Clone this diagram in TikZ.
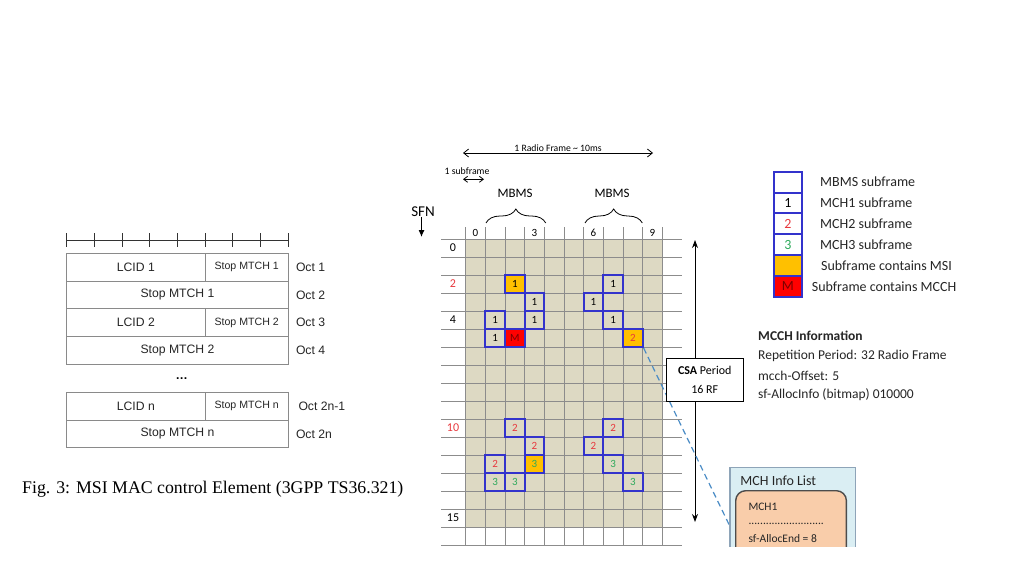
\documentclass[tikz,border=0pt]{standalone}
\usepackage{fontspec}
\setmainfont{Carlito}
\newfontfamily\arialf{Liberation Sans}
\newfontfamily\timesf{Liberation Serif}
\usetikzlibrary{positioning, calc, arrows.meta, decorations.pathreplacing}
\definecolor{tanbg}{HTML}{DDD9C3}
\definecolor{gridgray}{HTML}{8C8C8C}
\definecolor{mblue}{HTML}{3333CC}
\definecolor{msi}{HTML}{FFC000}
\definecolor{mcch}{HTML}{FF0000}
\definecolor{mdark}{HTML}{7A0000}
\definecolor{twored}{HTML}{E8383D}
\definecolor{threegreen}{HTML}{2EAA5C}
\definecolor{linkblue}{HTML}{4A8CC6}
\definecolor{infobg}{HTML}{DAEEF3}
\definecolor{infoedge}{HTML}{8EA4B8}
\definecolor{peach}{HTML}{F9CDAA}
\definecolor{tabgray}{HTML}{8A8A8A}
\newcommand*{\fs}[1]{\fontsize{#1}{#1}\selectfont}
\tikzset{
 tcell/.style={draw=tabgray, line width=0.9pt, outer sep=0pt, inner sep=0pt, minimum height=27.7pt, font=\arialf\fs{12.2}, text=black!85},
 tsmall/.style={font=\arialf\fs{10.6}},
 octlbl/.style={right=7.5pt of #1, inner sep=0pt, font=\arialf\fs{12.2}, text=black!85},
 mch/.style={draw=mblue, line width=2pt, minimum width=19.66pt, minimum height=18pt, inner sep=0pt, font=\fs{11}},
 legbox/.style={draw=mblue, line width=2pt, minimum width=27.7pt, minimum height=20.85pt, inner sep=0pt, outer sep=0pt, font=\fs{14}},
 legtxt/.style={anchor=west, inner sep=0pt, font=\fs{14}, text=black!85},
 info/.style={anchor=west, inner sep=0pt, font=\fs{13.5}, text=black!85},
}

\begin{document}
\begin{tikzpicture}[x=1pt, y=-1pt]
 \fill[white] (0,0) rectangle (1024,576);
 \useasboundingbox (0,0) rectangle (1024,576);

 % MSI MAC control element
 \coordinate (rul-l) at (66.7,240);
 \coordinate (rul-r) at (288.3,240);
 \draw[black!80, line width=0.9pt] (rul-l) -- (rul-r);
 \foreach \i in {0,...,8} \draw[black!80, line width=0.9pt] ($(rul-l)+(27.7*\i,-7)$) -- ++(0,14);

 \node[tcell, minimum width=138.3pt] (lcid1) at (135.85,267.15) {LCID 1};
 \node[tcell, tsmall, minimum width=83.3pt, right=0pt of lcid1] (stopa1) {Stop MTCH 1};
 \node[tcell, minimum width=221.6pt, below=0pt of lcid1.south west, anchor=north west] (stop1) {Stop MTCH 1};
 \node[tcell, minimum width=138.3pt, below=0pt of stop1.south west, anchor=north west] (lcid2) {LCID 2};
 \node[tcell, tsmall, minimum width=83.3pt, right=0pt of lcid2] (stopa2) {Stop MTCH 2};
 \node[tcell, minimum width=221.6pt, below=0pt of lcid2.south west, anchor=north west] (stop2) {Stop MTCH 2};
 \node[inner sep=0pt, font=\arialf\fs{12.2}] (dots) at (181.7,378.3) {\textbf{\dots}};
 \node[tcell, minimum width=138.3pt] (lcidn) at (135.85,406.15) {LCID n};
 \node[tcell, tsmall, minimum width=83.3pt, right=0pt of lcidn] (stopan) {Stop MTCH n};
 \node[tcell, minimum width=221.6pt, below=0pt of lcidn.south west, anchor=north west] (stopn) {Stop MTCH n};

 \node[octlbl=stopa1] (oct1) {Oct 1};
 \node[octlbl=stop1] (oct2) {Oct 2};
 \node[octlbl=stopa2] (oct3) {Oct 3};
 \node[octlbl=stop2] (oct4) {Oct 4};
 \node[octlbl=stopan, xshift=2.5pt] (oct2n1) {Oct 2n-1};
 \node[octlbl=stopn] (oct2n) {Oct 2n};

 \node[anchor=west, inner sep=0pt, font=\timesf\fs{17.8}] (caption) at (22,489) {Fig. 3: MSI MAC control Element (3GPP TS36.321)};

 % subframe grid
 \fill[tanbg] (465.7,239) rectangle (662.3,527);
 \foreach \k in {0,...,17} \draw[gridgray, line width=0.8pt] (441,{239+18*\k}) -- (682,{239+18*\k});
 \foreach \j in {0,...,10} \draw[gridgray, line width=0.8pt] ({465.7+19.66*\j},227) -- ({465.7+19.66*\j},546);

 \foreach \j in {0,3,6,9} \node[inner sep=0pt, font=\fs{11}] (col\j) at ({475.5+19.66*\j},233) {\j};
 \foreach \r/\c in {0/black, 2/twored, 4/black, 10/twored, 15/black}
  \node[inner sep=0pt, font=\fs{12}, text=\c] (row\r) at (453,{248+18*\r}) {\r};

 \foreach \c/\r/\t/\f/\tc in {2/2/1/msi/black, 7/2/1/tanbg/black, 3/3/1/tanbg/black, 6/3/1/tanbg/black,
   1/4/1/tanbg/black, 3/4/1/tanbg/black, 7/4/1/tanbg/black, 1/5/1/tanbg/black, 2/5/M/mcch/mdark, 8/5/2/msi/twored,
   2/10/2/tanbg/twored, 7/10/2/tanbg/twored, 3/11/2/tanbg/twored, 6/11/2/tanbg/twored,
   1/12/2/tanbg/twored, 3/12/3/msi/threegreen, 7/12/3/tanbg/threegreen,
   1/13/3/tanbg/threegreen, 2/13/3/tanbg/threegreen, 8/13/3/tanbg/threegreen}
  \node[mch, fill=\f, text=\tc] (c\c-\r) at ({475.5+19.66*\c},{248+18*\r}) {\t};

 % frame and subframe arrows
 \coordinate (rf-l) at (463,153);
 \coordinate (rf-r) at (653,153);
 \draw[{Straight Barb[length=5pt,width=8pt]}-{Straight Barb[length=5pt,width=8pt]}, line width=0.8pt] (rf-l) -- node[above=1.5pt, inner sep=0pt, font=\fs{9.7}] (rflbl) {1 Radio Frame \textasciitilde{} 10ms} (rf-r);
 \coordinate (sf-l) at (463,179.3);
 \coordinate (sf-r) at (484,179.3);
 \draw[{Straight Barb[length=4pt,width=6pt]}-{Straight Barb[length=4pt,width=6pt]}, line width=0.8pt] (sf-l) -- (sf-r);
 \node[inner sep=0pt, font=\fs{9.8}] (sflbl) at (467,170.7) {1 subframe};

 \node[inner sep=0pt, font=\fs{15}] (sfn) at (423,211.7) {SFN};
 \coordinate (sfn-end) at (421.5,237);
 \draw[-{Latex[length=7pt,width=6pt]}, line width=1pt] (sfn.south -| sfn-end) -- (sfn-end);

 \coordinate (mb1-l) at (486,223);
 \coordinate (mb1-r) at (545.7,223);
 \coordinate (mb2-l) at (585,223);
 \coordinate (mb2-r) at (642.3,223);
 \draw[decorate, decoration={brace, amplitude=14pt}, line width=0.8pt] (mb1-l) -- (mb1-r);
 \draw[decorate, decoration={brace, amplitude=14pt}, line width=0.8pt] (mb2-l) -- (mb2-r);
 \node[inner sep=0pt, font=\fs{12.9}] (mbms1) at (515,193) {MBMS};
 \node[inner sep=0pt, font=\fs{12.9}] (mbms2) at (612,193) {MBMS};

 % CSA period
 \coordinate (csa-top) at (695,240);
 \coordinate (csa-bot) at (695,522);
 \draw[{Stealth[length=8pt,width=6pt]}-{Stealth[length=8pt,width=6pt]}, line width=0.9pt] (csa-top) -- (csa-bot);
 \coordinate (mch-link) at (737,541);
 \draw[linkblue, line width=1.2pt, dash pattern=on 6pt off 4pt] (c8-5.south east) -- (mch-link);
 \node[draw, fill=white, line width=0.9pt, minimum width=77.3pt, minimum height=43.4pt, align=center, font=\fontsize{12}{18.4}\selectfont] (csa) at (704.7,380) {\textbf{CSA} Period\\16 RF};

 % legend
 \node[legbox] (leg0) at (787.85,182.1) {};
 \node[legbox, below=0pt of leg0] (leg1) {1};
 \node[legbox, below=0pt of leg1, text=twored] (leg2) {2};
 \node[legbox, below=0pt of leg2, text=threegreen] (leg3) {3};
 \node[legbox, below=0pt of leg3, fill=msi] (leg4) {};
 \node[legbox, below=0pt of leg4, fill=mcch, text=mdark] (leg5) {M};
 \node[legtxt, right=18.3pt of leg0] (legt0) {MBMS subframe};
 \node[legtxt, right=18.3pt of leg1] (legt1) {MCH1 subframe};
 \node[legtxt, right=18.3pt of leg2] (legt2) {MCH2 subframe};
 \node[legtxt, right=18.3pt of leg3] (legt3) {MCH3 subframe};
 \node[legtxt, right=19.3pt of leg4] (legt4) {Subframe contains MSI};
 \node[legtxt, right=10pt of leg5] (legt5) {Subframe contains MCCH};

 % MCCH information
 \node[info, font=\bfseries\fs{13.5}] (mcchhead) at (758,336) {MCCH Information};
 \node[info] (mcchrep) at (758,356) {Repetition Period: 32 Radio Frame};
 \node[info] (mcchoff) at (758,376) {mcch-Offset: 5};
 \node[info] (mcchalloc) at (758,395) {sf-AllocInfo (bitmap) 010000};

 % MCH info list, cut at the lower edge
 \begin{scope}
  \clip (700,440) rectangle (880,546);
  \node[draw=infoedge, fill=infobg, line width=1.3pt, minimum width=125.7pt, minimum height=120pt, anchor=north west] (mchlist) at (729.3,466.7) {};
  \node[inner sep=0pt, font=\fs{14}, text=black!85] (mchtitle) at (778.3,480.7) {MCH Info List};
  \node[draw=black!70, fill=peach, line width=1.4pt, rounded corners=10pt, minimum width=110.7pt, minimum height=90pt, anchor=north west] (mch1box) at (735,490) {};
  \node[info, font=\fs{11.5}] (mch1) at (748.3,506.7) {MCH1};
  \node[info, font=\fs{11.5}] (mch1dots) at (748.3,524) {..........................};
  \node[info, font=\fs{11.5}] (mch1end) at (748.3,538.3) {sf-AllocEnd = 8};
 \end{scope}
\end{tikzpicture}
\end{document}
